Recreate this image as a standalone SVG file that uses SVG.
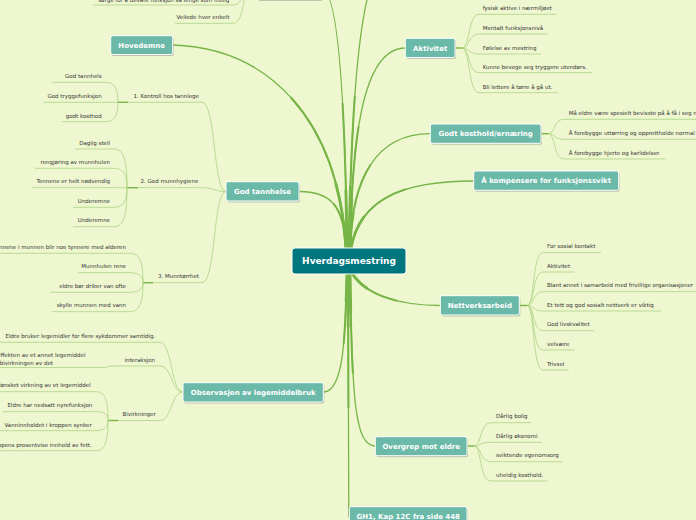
<svg xmlns="http://www.w3.org/2000/svg" width="696" height="520" viewBox="0 0 696 520">
<style>
.bg{fill:#eef7d0}
.box{fill:#6bb9a8;stroke:#ffffff;stroke-width:1}
.root{fill:#00767f;stroke:#ffffff;stroke-width:1}
.sh{fill:#8f9a8a;opacity:0.55}
.mt{font-family:"DejaVu Sans",Verdana,sans-serif;font-weight:bold;font-size:7px;fill:#ffffff;text-anchor:middle}
.rt{font-family:"DejaVu Sans",Verdana,sans-serif;font-weight:bold;font-size:9px;fill:#ffffff;text-anchor:middle}
.ct{font-family:"DejaVu Sans",Verdana,sans-serif;font-size:5.5px;fill:#333333}
.e{text-anchor:end}
.mc path{fill:none;stroke:#77b547;stroke-linecap:round}
.w1{stroke-width:1.3}
.w2{stroke-width:2;stroke-dasharray:55 200}
.w3{stroke-width:2.8;stroke-dasharray:22 200}
.cc{fill:none;stroke:#acd383;stroke-width:0.8}
.jb{fill:none;stroke:#77b547;stroke-width:1.4}
</style>
<defs>
  <path id="m1" d="M347,248 C345,100 338,-10 322,-10"/>
  <path id="m2" d="M349,248 C351,120 358,10 375,-25"/>
  <path id="m3" d="M346,248 C338,120 270,48 172.7,45"/>
  <path id="m4" d="M346,248 C344,205 330,191.5 299,191.5"/>
  <path id="m5" d="M350,248 C352,150 360,48 405.3,48"/>
  <path id="m6" d="M350,248 C352,180 375,133.7 430.3,133.7"/>
  <path id="m7" d="M351,248 C360,200 400,181 473.7,181"/>
  <path id="m8" d="M347,273 C345,330 345,392 323.3,392"/>
  <path id="m9" d="M352,273 C365,295 400,305.5 440.3,305.5"/>
  <path id="m10" d="M350,273 C352,400 355,446 375.3,446"/>
  <path id="m11" d="M348,273 L348.8,517"/>
</defs>
<rect class="bg" x="0" y="0" width="696" height="520"/>

<g id="connectors">
  <g class="mc">
    <path class="w1" d="M347,248 C345,100 338,-10 322,-10"/>
    <path class="w2" pathLength="100" d="M347,248 C345,100 338,-10 322,-10"/>
    <path class="w3" pathLength="100" d="M347,248 C345,100 338,-10 322,-10"/>
    <path class="w1" d="M349,248 C351,120 358,10 375,-25"/>
    <path class="w2" pathLength="100" d="M349,248 C351,120 358,10 375,-25"/>
    <path class="w3" pathLength="100" d="M349,248 C351,120 358,10 375,-25"/>
    <path class="w1" d="M346,248 C338,120 270,48 172.7,45"/>
    <path class="w2" pathLength="100" d="M346,248 C338,120 270,48 172.7,45"/>
    <path class="w3" pathLength="100" d="M346,248 C338,120 270,48 172.7,45"/>
    <path class="w1" d="M346,248 C344,205 330,191.5 299,191.5"/>
    <path class="w2" pathLength="100" d="M346,248 C344,205 330,191.5 299,191.5"/>
    <path class="w3" pathLength="100" d="M346,248 C344,205 330,191.5 299,191.5"/>
    <path class="w1" d="M350,248 C352,150 360,48 405.3,48"/>
    <path class="w2" pathLength="100" d="M350,248 C352,150 360,48 405.3,48"/>
    <path class="w3" pathLength="100" d="M350,248 C352,150 360,48 405.3,48"/>
    <path class="w1" d="M350,248 C352,180 375,133.7 430.3,133.7"/>
    <path class="w2" pathLength="100" d="M350,248 C352,180 375,133.7 430.3,133.7"/>
    <path class="w3" pathLength="100" d="M350,248 C352,180 375,133.7 430.3,133.7"/>
    <path class="w1" d="M351,248 C360,200 400,181 473.7,181"/>
    <path class="w2" pathLength="100" d="M351,248 C360,200 400,181 473.7,181"/>
    <path class="w3" pathLength="100" d="M351,248 C360,200 400,181 473.7,181"/>
    <path class="w1" d="M347,273 C345,330 345,392 323.3,392"/>
    <path class="w2" pathLength="100" d="M347,273 C345,330 345,392 323.3,392"/>
    <path class="w3" pathLength="100" d="M347,273 C345,330 345,392 323.3,392"/>
    <path class="w1" d="M352,273 C365,295 400,305.5 440.3,305.5"/>
    <path class="w2" pathLength="100" d="M352,273 C365,295 400,305.5 440.3,305.5"/>
    <path class="w3" pathLength="100" d="M352,273 C365,295 400,305.5 440.3,305.5"/>
    <path class="w1" d="M350,273 C352,400 355,446 375.3,446"/>
    <path class="w2" pathLength="100" d="M350,273 C352,400 355,446 375.3,446"/>
    <path class="w3" pathLength="100" d="M350,273 C352,400 355,446 375.3,446"/>
    <path class="w1" d="M348,273 L348.8,517"/>
    <path class="w2" pathLength="100" d="M348,273 L348.8,517"/>
    <path class="w3" pathLength="100" d="M348,273 L348.8,517"/>
  </g>

  <!-- top-left partial node children -->
  <path class="jb" d="M257,-10 H247"/>
  <path class="cc" d="M247,-10 C241,-10 243,5 234,5 H93"/>
  <path class="cc" d="M247,-10 C243,-5 244,23.3 233,23.3 H175"/>

  <!-- Aktivitet children -->
  <path class="jb" d="M455,48 H462"/>
  <path class="cc" d="M462,48 C470,48 468,14.3 479,14.3 H556.7"/>
  <path class="cc" d="M462,48 C470,48 468,34 479,34 H547.7"/>
  <path class="cc" d="M462,48 C470,48 468,54 479,54 H541"/>
  <path class="cc" d="M462,48 C470,48 468,72.7 479,72.7 H591.7"/>
  <path class="cc" d="M462,48 C470,48 468,92.7 479,92.7 H557.7"/>

  <!-- Godt kosthold children -->
  <path class="jb" d="M541,133.7 H548"/>
  <path class="cc" d="M548,133.7 C556,133.7 553,119.3 564,119.3 H700"/>
  <path class="cc" d="M548,133.7 C556,133.7 553,139.3 564,139.3 H700"/>
  <path class="cc" d="M548,133.7 C556,133.7 553,159 564,159 H665.3"/>

  <!-- Nettverksarbeid children -->
  <path class="jb" d="M519.3,305.5 H527"/>
  <path class="cc" d="M527,305.5 C535,305.5 532,252.7 543,252.7 H601"/>
  <path class="cc" d="M527,305.5 C535,305.5 532,272 543,272 H574.7"/>
  <path class="cc" d="M527,305.5 C535,305.5 532,291.7 543,291.7 H700"/>
  <path class="cc" d="M527,305.5 C535,305.5 532,311 543,311 H661"/>
  <path class="cc" d="M527,305.5 C535,305.5 532,330.7 543,330.7 H594.3"/>
  <path class="cc" d="M527,305.5 C535,305.5 532,350 543,350 H574.3"/>
  <path class="cc" d="M527,305.5 C535,305.5 532,370 543,370 H568.7"/>

  <!-- Overgrep children -->
  <path class="jb" d="M467,446 H474"/>
  <path class="cc" d="M474,446 C482,446 479,422.7 491,422.7 H531"/>
  <path class="cc" d="M474,446 C482,446 479,442.3 491,442.3 H542"/>
  <path class="cc" d="M474,446 C482,446 479,461.7 491,461.7 H562.7"/>
  <path class="cc" d="M474,446 C482,446 479,481 491,481 H547.7"/>

  <!-- God tannhelse subtopics -->
  <path class="cc" d="M226,191.5 C213,191.5 216,102.3 202,102.3 H128"/>
  <path class="cc" d="M226,191.5 C214,191.5 214,187.7 202,187.7 H138"/>
  <path class="cc" d="M226,191.5 C213,191.5 216,282.7 202,282.7 H153"/>

  <!-- 1. Kontroll children -->
  <path class="jb" d="M128,102.3 H118"/>
  <path class="cc" d="M118,102.3 C118,90 115,82.3 106,82.3 H51.7"/>
  <path class="cc" d="M118,102.3 H43"/>
  <path class="cc" d="M118,102.3 C118,114 115,121.7 106,121.7 H62"/>

  <!-- 2. God munnhygiene children -->
  <path class="jb" d="M138,187.7 H127"/>
  <path class="cc" d="M127,187.7 C127,160 124,149 114,149 H75"/>
  <path class="cc" d="M127,187.7 C127,175 124,168.3 114,168.3 H35"/>
  <path class="cc" d="M127,187.7 H32"/>
  <path class="cc" d="M127,187.7 C127,200 124,207.3 114,207.3 H73"/>
  <path class="cc" d="M127,187.7 C127,215 124,226.7 114,226.7 H73"/>

  <!-- 3. Munntørrhet children -->
  <path class="jb" d="M153,282.7 H143"/>
  <path class="cc" d="M143,282.7 C143,262 140,253.3 130,253.3 H0"/>
  <path class="cc" d="M143,282.7 C143,277 140,272.7 130,272.7 H78"/>
  <path class="cc" d="M143,282.7 C143,288 140,292.3 130,292.3 H50"/>
  <path class="cc" d="M143,282.7 C143,302 140,311.7 130,311.7 H52"/>

  <!-- Observasjon subtopics -->
  <path class="cc" d="M183,392 C171,392 172,342.3 160,342.3 H0"/>
  <path class="cc" d="M183,392 C171,392 172,366 160,366 H110"/>
  <path class="cc" d="M183,392 C171,392 172,420.5 160,420.5 H118"/>

  <!-- interaksjon child -->
  <path class="cc" d="M110,366 C107,366 108,367.5 104,367.5 H0"/>

  <!-- Bivirkninger children -->
  <path class="jb" d="M118,420.5 H108"/>
  <path class="cc" d="M108,420.5 C108,400 105,391.7 96,391.7 H0"/>
  <path class="cc" d="M108,420.5 C108,415 105,411.7 96,411.7 H3"/>
  <path class="cc" d="M108,420.5 C108,426 105,430.7 96,430.7 H0"/>
  <path class="cc" d="M108,420.5 C108,442 105,450.7 96,450.7 H0"/>
</g>

<g id="subtopics">
  <text class="ct e" x="229.3" y="1.5">sørge for å bevare funksjon så lenge som mulig</text>
  <text class="ct e" x="229.3" y="19">Veilede hver enkelt</text>

  <text class="ct" x="482.7" y="10.3">fysisk aktive i nærmiljøet</text>
  <text class="ct" x="482.7" y="29.7">Mentalt funksjonsnivå</text>
  <text class="ct" x="482.7" y="49.7">Følelse av mestring</text>
  <text class="ct" x="482.7" y="68.5">Kunne bevege seg tryggere utendørs.</text>
  <text class="ct" x="482.7" y="88.5">Bli lettere å tørre å gå ut.</text>

  <text class="ct" x="568.7" y="115">Må eldre være spesielt bevisste på å få i seg n</text>
  <text class="ct" x="568.7" y="134.8">Å forebygge uttørring og opprettholde normal</text>
  <text class="ct" x="568.7" y="154.5">Å forebygge hjerte og karlidelser.</text>

  <text class="ct" x="547" y="248.3">For sosial kontakt</text>
  <text class="ct" x="547" y="267.7">Aktivitet</text>
  <text class="ct" x="547" y="287.4">Blant annet i samarbeid med frivillige organisasjoner</text>
  <text class="ct" x="547" y="306.6">Et tett  og god sosialt nettverk er viktig</text>
  <text class="ct" x="547" y="326.3">God livskvalitet</text>
  <text class="ct" x="547" y="345.6">velvære</text>
  <text class="ct" x="547" y="365.6">Trivsel</text>

  <text class="ct" x="496" y="418.4">Dårlig bolig</text>
  <text class="ct" x="496" y="437.9">Dårlig økonomi</text>
  <text class="ct" x="496" y="457.3">sviktende egenomsorg</text>
  <text class="ct" x="496" y="476.6">uheldig kosthold.</text>

  <text class="ct e" x="199" y="98">1. Kontroll hos tannlege</text>
  <text class="ct e" x="198.3" y="183.4">2. God munnhygiene</text>
  <text class="ct e" x="199" y="278.4">3. Munntørrhet</text>

  <text class="ct e" x="101.7" y="78.2">God tannhels</text>
  <text class="ct e" x="101.7" y="98">God tryggefunksjon</text>
  <text class="ct e" x="101.7" y="117.5">godt kosthod</text>

  <text class="ct e" x="110" y="144.7">Daglig stell</text>
  <text class="ct e" x="110" y="164">rengjøring av munnhulen</text>
  <text class="ct e" x="110" y="183.4">Tennene er helt nødvendig</text>
  <text class="ct e" x="110" y="203">Underemne</text>
  <text class="ct e" x="110" y="222.4">Underemne</text>

  <text class="ct e" x="126" y="249">Slimhinnene i munnen blir noe tynnere med alderen</text>
  <text class="ct e" x="126" y="268.4">Munnhulen rene</text>
  <text class="ct e" x="126" y="288">eldre bør driker van ofte</text>
  <text class="ct e" x="126" y="307.4">skylle munnen med vann</text>

  <text class="ct e" x="155.3" y="338">Eldre bruker legemidler for flere sykdommer samtidig.</text>
  <text class="ct e" x="155" y="361.7">interaksjon</text>
  <text class="ct e" x="155.7" y="416.2">Bivirkninger</text>

  <text class="ct e" x="85.5" y="357">effekten av et annet legemiddel</text>
  <text class="ct e" x="53" y="364.6">bivirkningen av det</text>

  <text class="ct e" x="90.7" y="387.4">Uønsket virkning av et legemiddel</text>
  <text class="ct e" x="92.3" y="407.4">Eldre har nedsatt nyrefunksjon</text>
  <text class="ct e" x="91.7" y="426.6">Vanninnholdet i kroppen synker</text>
  <text class="ct e" x="91.7" y="446.9">Kroppens prosentvise innhold av fett.</text>
</g>

<g id="node-top">
  <rect class="sh" x="258.5" y="-19" width="64" height="20" rx="2"/>
  <rect class="box" x="257.7" y="-21" width="64" height="20.5" rx="2"/>
</g>
<g id="node-hovedemne">
  <rect class="sh" x="111.7" y="37.2" width="62" height="18.8" rx="2"/>
  <rect class="box" x="110.7" y="35.7" width="62" height="18.8" rx="2"/>
  <text class="mt" x="141.7" y="48.1">Hovedemne</text>
</g>
<g id="node-god-tannhelse">
  <rect class="sh" x="227" y="183.2" width="73" height="19.3" rx="2"/>
  <rect class="box" x="226" y="181.7" width="73" height="19.3" rx="2"/>
  <text class="mt" x="262.5" y="194">God tannhelse</text>
</g>
<g id="node-observasjon">
  <rect class="sh" x="184" y="384.2" width="140.3" height="19.3" rx="2"/>
  <rect class="box" x="183" y="382.7" width="140.3" height="19.3" rx="2"/>
  <text class="mt" x="253.2" y="394.9">Observasjon av legemiddelbruk</text>
</g>
<g id="node-root">
  <rect class="root" x="292" y="248" width="114" height="26" rx="3"/>
  <text class="rt" x="349" y="264.3">Hverdagsmestring</text>
</g>
<g id="node-aktivitet">
  <rect class="sh" x="406.3" y="39.8" width="49.7" height="19.3" rx="2"/>
  <rect class="box" x="405.3" y="38.3" width="49.7" height="19.3" rx="2"/>
  <text class="mt" x="430.2" y="50.6">Aktivitet</text>
</g>
<g id="node-kosthold">
  <rect class="sh" x="431.3" y="125.5" width="110.7" height="19.3" rx="2"/>
  <rect class="box" x="430.3" y="124" width="110.7" height="19.3" rx="2"/>
  <text class="mt" x="485.7" y="136.3">Godt kosthold/ernæring</text>
</g>
<g id="node-kompensere">
  <rect class="sh" x="474.7" y="172.5" width="145" height="19.3" rx="2"/>
  <rect class="box" x="473.7" y="171" width="145" height="19.3" rx="2"/>
  <text class="mt" x="546.2" y="183.3">Å kompensere for funksjonssvikt</text>
</g>
<g id="node-nettverk">
  <rect class="sh" x="441.3" y="297.2" width="79" height="19.3" rx="2"/>
  <rect class="box" x="440.3" y="295.7" width="79" height="19.3" rx="2"/>
  <text class="mt" x="479.8" y="308">Nettverksarbeid</text>
</g>
<g id="node-overgrep">
  <rect class="sh" x="376.3" y="438.2" width="91.7" height="19" rx="2"/>
  <rect class="box" x="375.3" y="436.7" width="91.7" height="19" rx="2"/>
  <text class="mt" x="421.2" y="448.8">Overgrep mot eldre</text>
</g>
<g id="node-gh1">
  <rect class="sh" x="350.3" y="508.2" width="117.7" height="20" rx="2"/>
  <rect class="box" x="349.3" y="506.7" width="117.7" height="20" rx="2"/>
  <text class="mt" x="408.2" y="519.3">GH1, Kap 12C fra side 448</text>
</g>
</svg>
